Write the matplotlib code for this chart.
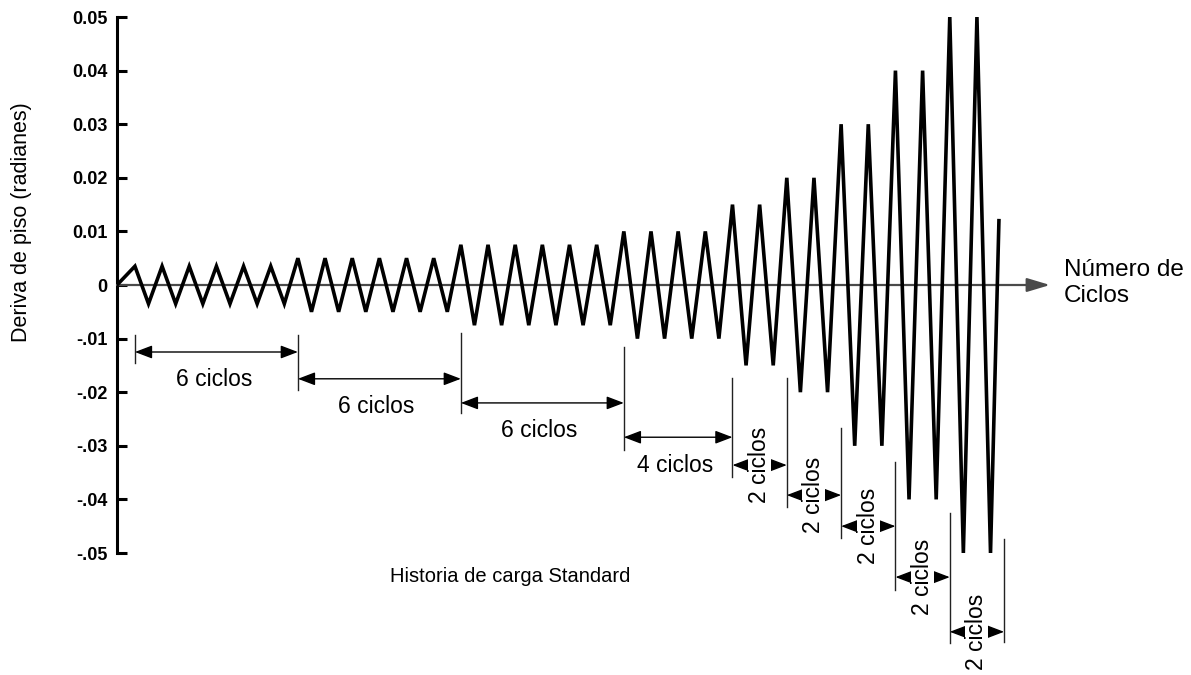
import numpy as np
import matplotlib.pyplot as plt

# loading protocol
drift_levels = [0.0035, 0.005, 0.0075, 0.01, 0.015, 0.02, 0.03, 0.04, 0.05]
cycles_per_step = [6, 6, 6, 4, 2, 2, 2, 2, 2]
step_labels = ['6 ciclos', '6 ciclos', '6 ciclos', '4 ciclos',
               '2 ciclos', '2 ciclos', '2 ciclos', '2 ciclos', '2 ciclos']
end_drift = 0.012  # record stops while rising

yticks = [0.05, 0.04, 0.03, 0.02, 0.01, 0, -0.01, -0.02, -0.03, -0.04, -0.05]
ytick_labels = ['0.05', '0.04', '0.03', '0.02', '0.01', '0',
                '-.01', '-.02', '-.03', '-.04', '-.05']

# layout of the dimension lines below the record (drift units)
arrow_y = [-0.0125, -0.0175, -0.0220, -0.0284, -0.0336, -0.0392, -0.0450, -0.0545, -0.0647]
bound_top = [-0.0093, -0.0093, -0.0090, -0.0116, -0.0174, -0.0174, -0.0267, -0.0330, -0.0425, -0.0474]
bound_bot = [-0.0146, -0.0196, -0.0239, -0.0308, -0.0358, -0.0414, -0.0472, -0.0569, -0.0668, -0.0666]

plt.rcParams['font.family'] = ['Liberation Sans', 'DejaVu Sans']

W, H = 1191, 675
fig = plt.figure(figsize=(W / 100, H / 100), dpi=100)
ax = fig.add_axes([117 / W, 1 - 553 / H, (1050 - 117) / W, 536 / H])

x0, x1 = -0.41, 33.94
ax.set_xlim(x0, x1)
ax.set_ylim(-0.05, 0.05)

# triangular drift history
amps = np.repeat(drift_levels, cycles_per_step)
t = [x0]
v = [0.0]
for k, a in enumerate(amps):
    t += [k + 0.25, k + 0.75]
    v += [a, -a]
a = amps[-1]
t.append(len(amps) - 0.25 + 0.5 * (end_drift + a) / (2 * a))
v.append(end_drift)

# horizontal axis with arrow
ax.annotate('', xy=(x1, 0), xytext=(x0, 0), annotation_clip=False,
            arrowprops=dict(arrowstyle='-|>,head_length=1.4,head_width=0.42',
                            color='#4a4a4a', lw=1.6, shrinkA=0, shrinkB=0))
ax.plot(t, v, color='black', lw=2.6, solid_joinstyle='miter', zorder=3)

# dimension lines
starts = np.concatenate([[0], np.cumsum(cycles_per_step)]) + 0.25
for i, tb in enumerate(starts):
    ax.plot([tb, tb], [bound_top[i], bound_bot[i]], color='#222222', lw=1,
            clip_on=False)
for i, lab in enumerate(step_labels):
    xa, xb = starts[i], starts[i + 1]
    ax.annotate('', xy=(xb, arrow_y[i]), xytext=(xa, arrow_y[i]), annotation_clip=False,
                arrowprops=dict(arrowstyle='<|-|>,head_length=1.05,head_width=0.4',
                                color='black', lw=1, shrinkA=0, shrinkB=0))
    xm = (xa + xb) / 2
    if cycles_per_step[i] > 2:
        ax.text(xm - 0.1, arrow_y[i] - 0.0052, lab, ha='center', va='center',
                fontsize=16.5, clip_on=False)
    else:
        ax.text(xm, arrow_y[i], lab, ha='center', va='center', rotation=90,
                fontsize=16.5, clip_on=False,
                bbox=dict(facecolor='white', edgecolor='none', pad=0))

# axes styling
for s in ['top', 'right', 'bottom']:
    ax.spines[s].set_visible(False)
ax.spines['left'].set_linewidth(2.2)
ax.set_xticks([])
ax.set_yticks(yticks)
ax.set_yticklabels(ytick_labels, fontsize=13, fontweight='bold')
ax.tick_params(axis='y', direction='in', length=7, width=2.2, pad=7)

fig.text(22 / W, 1 - 222 / H, 'Deriva de piso (radianes)', rotation=90,
         ha='center', va='center', fontsize=15.5)
fig.text(510 / W, 1 - 577 / H, 'Historia de carga Standard',
         ha='center', va='center', fontsize=14.5)
fig.text(1064 / W, 1 - 283 / H, 'Número de\nCiclos', ha='left', va='center',
         fontsize=17.5, linespacing=1.2)

fig.savefig('out.png', dpi=100)
